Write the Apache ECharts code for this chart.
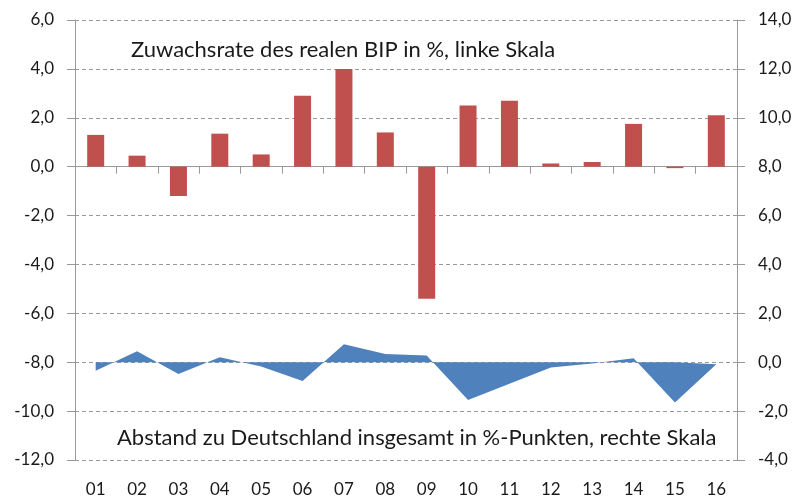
<!DOCTYPE html>
<html lang="de">
<head>
    <meta charset="UTF-8">
    <title>BIP</title>
    <script src="https://cdn.jsdelivr.net/npm/echarts@6/dist/echarts.min.js"></script>
    <style>
        body { margin: 0; background: #fff; }
    </style>
</head>
<body>
<div id="main" style="width: 801px;height:503px;"></div>
<script>
    // Jahre 2001 - 2016
    const years = ['01', '02', '03', '04', '05', '06', '07', '08', '09', '10', '11', '12', '13', '14', '15', '16'];
    // Zuwachsrate des realen BIP in %
    const bipGrowth = [1.3, 0.45, -1.2, 1.35, 0.5, 2.9, 4.0, 1.4, -5.4, 2.5, 2.7, 0.13, 0.19, 1.75, -0.06, 2.1];
    // Abstand zu Deutschland in %-Punkten
    const gapToGermany = [-0.35, 0.45, -0.48, 0.2, -0.18, -0.77, 0.74, 0.34, 0.27, -1.55, -0.88, -0.22, -0.05, 0.16, -1.65, -0.08];

    const leftTicks = {min: -12, max: 6, interval: 2};
    const rightTicks = {min: -4, max: 14, interval: 2};

    const fontFam = 'Lato, "Open Sans", sans-serif';
    const fmt = function (v) { return v.toFixed(1).replace('.', ','); };

    let chart = echarts.init(document.getElementById('main'));
    let option = {
        animation: false,
        textStyle: {fontFamily: fontFam},
        grid: {left: 75, right: 64, top: 20, bottom: 43},
        graphic: [
            {
                type: 'text', left: 131, top: 39,
                style: {text: 'Zuwachsrate des realen BIP in %, linke Skala', font: '22px ' + fontFam, fill: '#1a1a1a'}
            },
            {
                type: 'text', left: 117, top: 427,
                style: {text: 'Abstand zu Deutschland insgesamt in %-Punkten, rechte Skala', font: '22px ' + fontFam, fill: '#1a1a1a'}
            }
        ],
        xAxis: [
            {
                type: 'category',
                data: years,
                axisLine: {show: false},
                axisTick: {show: false},
                axisLabel: {fontSize: 17, color: '#1a1a1a', margin: 21}
            },
            {
                type: 'category',
                data: years,
                position: 'bottom',
                axisLine: {onZero: true, onZeroAxisIndex: 0, lineStyle: {color: '#999', width: 1}},
                axisTick: {show: true, length: 7, lineStyle: {color: '#999'}},
                axisLabel: {show: false}
            }
        ],
        yAxis: [
            {
                type: 'value',
                min: leftTicks.min, max: leftTicks.max, interval: leftTicks.interval,
                axisLine: {show: true, lineStyle: {color: '#999'}},
                axisTick: {show: true, length: 8, lineStyle: {color: '#999'}},
                axisLabel: {formatter: fmt, fontSize: 17, color: '#1a1a1a', margin: 21},
                splitLine: {show: true, lineStyle: {color: '#999', type: [4, 3]}}
            },
            {
                type: 'value',
                position: 'right',
                min: rightTicks.min, max: rightTicks.max, interval: rightTicks.interval,
                axisLine: {show: true, lineStyle: {color: '#999'}},
                axisTick: {show: true, length: 8, lineStyle: {color: '#999'}},
                axisLabel: {formatter: fmt, fontSize: 17, color: '#1a1a1a', margin: 21},
                splitLine: {show: false}
            }
        ],
        series: [
            {
                name: 'Abstand',
                type: 'line',
                yAxisIndex: 1,
                data: gapToGermany,
                symbol: 'none',
                lineStyle: {width: 0, color: '#4f81bd'},
                areaStyle: {color: '#4f81bd', opacity: 1}
            },
            {
                name: 'BIP',
                type: 'bar',
                data: bipGrowth,
                barWidth: 17,
                itemStyle: {color: '#c0504d'}
            }
        ]
    };
    chart.setOption(option);
</script>
</body>
</html>
